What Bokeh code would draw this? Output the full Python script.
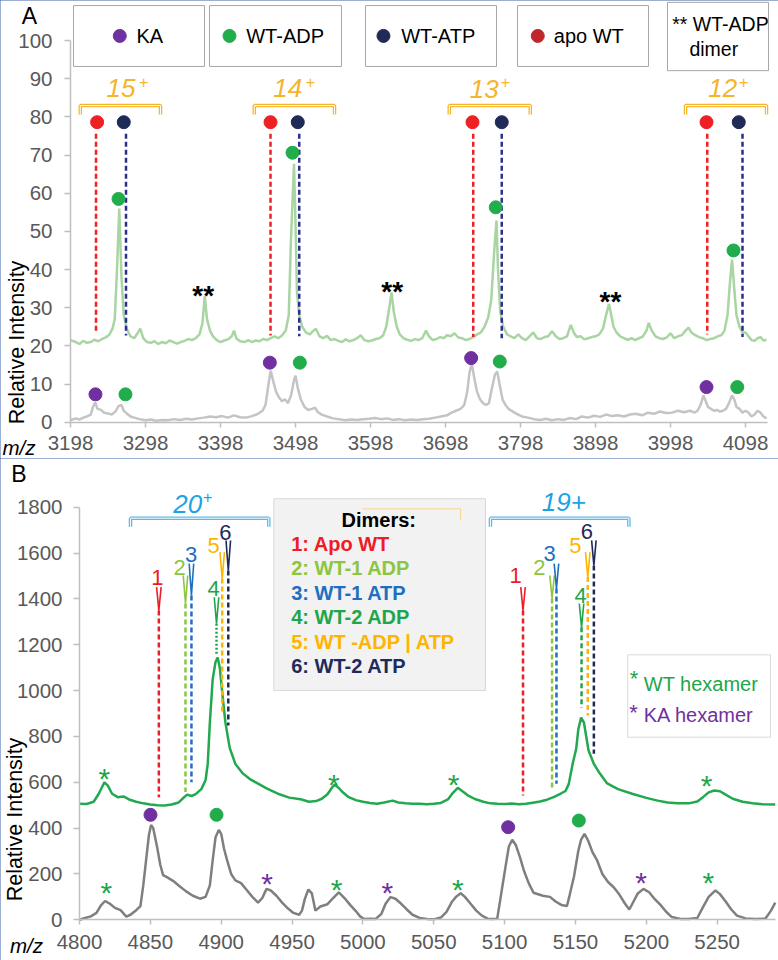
import math
from bokeh.plotting import figure
from bokeh.models import FixedTicker, Range1d, LinearAxis
from bokeh.layouts import column
from bokeh.embed import file_html
from bokeh.resources import INLINE
from bokeh.core.properties import value

FONT = "Liberation Sans"

# ------------------------------------------------------------------ Panel A data
A_XTICKS = [3198, 3298, 3398, 3498, 3598, 3698, 3798, 3898, 3998, 4098]
A_YTICKS = [0, 10, 20, 30, 40, 50, 60, 70, 80, 90, 100]

# WT (ADP/ATP) spectrum, offset trace (m/z, relative intensity)
A_WT_TRACE = [
    (3198, 21.5), (3205, 21.0), (3210, 20.5), (3215, 21.3), (3220, 20.8), (3225, 21.0), (3230, 21.6),
    (3235, 21.2), (3240, 21.8), (3245, 22.2), (3250, 23.0), (3254, 24.5), (3257, 27.0), (3260, 40.0),
    (3263, 56.0), (3266, 38.0), (3269, 28.0), (3273, 24.5), (3278, 22.5), (3283, 22.0), (3288, 23.5),
    (3291, 24.5), (3295, 22.0), (3300, 21.0), (3305, 20.8), (3310, 21.2), (3315, 20.5), (3320, 21.0),
    (3325, 20.7), (3330, 21.4), (3335, 21.0), (3340, 20.6), (3345, 21.0), (3350, 21.3), (3355, 21.8),
    (3360, 21.5), (3365, 22.0), (3370, 23.0), (3374, 26.0), (3377, 33.0), (3380, 27.0), (3384, 24.0),
    (3388, 22.5), (3393, 21.5), (3398, 21.0), (3403, 21.4), (3408, 21.7), (3413, 22.5), (3416, 24.0),
    (3419, 22.0), (3424, 21.2), (3430, 21.0), (3435, 21.5), (3440, 21.0), (3445, 21.4), (3450, 21.2),
    (3455, 21.8), (3460, 21.5), (3465, 22.0), (3470, 22.5), (3475, 22.0), (3480, 22.7), (3485, 24.0),
    (3489, 28.0), (3492, 48.0), (3496, 67.7), (3498, 52.0), (3500, 34.0), (3503, 28.0), (3507, 25.0),
    (3512, 23.5), (3517, 23.0), (3522, 24.0), (3525, 24.5), (3530, 22.5), (3535, 22.0), (3540, 22.6),
    (3545, 21.5), (3550, 21.8), (3555, 21.3), (3560, 21.0), (3565, 21.7), (3570, 21.2), (3575, 21.5),
    (3580, 22.0), (3585, 22.8), (3590, 21.5), (3595, 21.2), (3600, 21.4), (3605, 21.8), (3610, 22.0),
    (3615, 22.8), (3619, 25.0), (3623, 30.0), (3626, 34.0), (3629, 29.0), (3633, 25.0), (3637, 23.0),
    (3642, 22.0), (3647, 21.6), (3652, 21.3), (3657, 21.8), (3662, 21.5), (3667, 22.0), (3672, 24.0),
    (3676, 22.5), (3681, 21.5), (3686, 21.8), (3691, 22.3), (3696, 22.0), (3700, 22.8), (3705, 22.5),
    (3710, 23.3), (3715, 22.2), (3720, 22.0), (3725, 21.5), (3730, 21.8), (3735, 22.3), (3740, 23.0),
    (3745, 23.5), (3750, 25.0), (3755, 27.5), (3759, 32.0), (3763, 45.0), (3766, 52.8), (3768, 40.0),
    (3771, 29.0), (3775, 25.0), (3780, 23.0), (3785, 22.5), (3790, 22.0), (3795, 23.0), (3800, 22.0),
    (3805, 21.5), (3810, 22.5), (3815, 23.5), (3820, 22.0), (3825, 21.8), (3830, 22.3), (3835, 22.5),
    (3840, 23.8), (3845, 22.5), (3850, 21.8), (3855, 22.0), (3860, 22.5), (3865, 25.5), (3869, 23.5),
    (3873, 22.3), (3878, 22.5), (3883, 21.7), (3888, 22.0), (3893, 22.3), (3898, 22.5), (3903, 23.0),
    (3908, 24.5), (3912, 28.0), (3916, 31.0), (3919, 28.0), (3922, 25.0), (3926, 23.5), (3931, 22.5),
    (3936, 22.0), (3941, 21.6), (3946, 22.0), (3951, 21.5), (3956, 22.0), (3961, 22.4), (3966, 24.0),
    (3969, 26.0), (3973, 24.0), (3978, 22.5), (3983, 22.0), (3988, 21.8), (3993, 22.2), (3998, 23.3),
    (4003, 22.0), (4008, 22.5), (4013, 22.8), (4018, 24.0), (4022, 24.8), (4026, 23.5), (4031, 22.8),
    (4036, 22.3), (4041, 22.0), (4046, 21.5), (4051, 21.8), (4056, 22.0), (4061, 22.5), (4066, 22.8),
    (4070, 24.0), (4074, 28.0), (4077, 36.0), (4080, 42.6), (4083, 35.0), (4086, 28.0), (4090, 25.0),
    (4094, 23.5), (4098, 23.5), (4102, 22.5), (4106, 21.5), (4110, 21.3), (4114, 22.0), (4118, 22.3),
    (4122, 21.4), (4126, 21.6),
]

# KA + WT mixture spectrum, lower trace
A_KA_TRACE = [
    (3198, 0.5), (3205, 1.0), (3210, 0.7), (3215, 1.2), (3220, 1.5), (3225, 2.0), (3228, 4.0),
    (3231, 5.2), (3234, 3.5), (3238, 3.3), (3243, 2.5), (3248, 2.3), (3253, 2.0), (3258, 2.8),
    (3262, 4.2), (3266, 4.5), (3269, 3.0), (3273, 2.3), (3278, 1.5), (3283, 1.2), (3290, 0.8),
    (3298, 0.5), (3305, 0.7), (3312, 0.4), (3320, 0.6), (3328, 0.5), (3336, 0.8), (3344, 0.6),
    (3352, 0.9), (3360, 0.7), (3368, 1.0), (3376, 1.2), (3384, 1.5), (3392, 1.3), (3400, 1.6),
    (3408, 1.2), (3416, 1.8), (3424, 1.3), (3432, 1.2), (3440, 1.6), (3448, 2.2), (3454, 3.0),
    (3458, 4.5), (3462, 10.0), (3465, 13.5), (3468, 11.0), (3472, 8.0), (3476, 6.5), (3480, 5.5),
    (3484, 6.0), (3488, 5.0), (3492, 7.0), (3496, 11.0), (3498, 12.2), (3501, 9.0), (3505, 6.0),
    (3510, 4.0), (3515, 3.2), (3520, 3.5), (3524, 3.8), (3528, 2.6), (3533, 2.0), (3540, 1.5),
    (3548, 1.0), (3556, 0.8), (3564, 0.5), (3572, 0.7), (3580, 0.6), (3588, 0.8), (3596, 0.9),
    (3604, 1.1), (3612, 0.8), (3620, 1.0), (3628, 0.6), (3636, 0.8), (3644, 0.5), (3652, 0.7),
    (3660, 0.6), (3668, 0.8), (3676, 0.9), (3684, 1.2), (3692, 1.5), (3700, 1.8), (3706, 2.5),
    (3712, 3.0), (3718, 3.5), (3723, 4.5), (3727, 8.0), (3730, 13.0), (3733, 15.3), (3736, 12.0),
    (3740, 8.0), (3744, 6.0), (3748, 5.0), (3752, 4.5), (3756, 5.0), (3760, 9.0), (3764, 12.5),
    (3767, 13.3), (3770, 10.0), (3774, 6.0), (3778, 4.5), (3782, 3.5), (3786, 3.0), (3790, 2.5),
    (3795, 2.0), (3800, 1.5), (3808, 1.2), (3816, 0.8), (3824, 0.6), (3832, 0.9), (3840, 0.5),
    (3848, 0.8), (3856, 0.6), (3864, 1.1), (3872, 0.8), (3880, 1.5), (3888, 1.2), (3896, 1.7),
    (3904, 1.4), (3912, 2.0), (3920, 1.6), (3928, 1.8), (3936, 1.5), (3944, 2.0), (3952, 2.2),
    (3960, 1.8), (3968, 2.5), (3976, 2.2), (3984, 2.8), (3992, 2.4), (4000, 2.5), (4008, 3.0),
    (4016, 2.6), (4024, 3.0), (4030, 2.5), (4034, 3.0), (4038, 4.5), (4042, 7.0), (4045, 5.5),
    (4048, 4.0), (4052, 3.5), (4056, 3.0), (4060, 3.2), (4064, 2.8), (4068, 3.0), (4072, 3.5),
    (4076, 5.0), (4080, 7.0), (4083, 6.0), (4086, 4.0), (4090, 3.5), (4094, 2.5), (4098, 3.0),
    (4102, 2.5), (4106, 1.5), (4110, 2.0), (4114, 3.0), (4118, 2.5), (4122, 1.5), (4126, 1.0),
]

A_CHARGES = ["15", "14", "13", "12"]
A_CHARGE_X = [3284.7, 3506.9, 3769.0, 4086.9]       # right edge of the digits
A_CHARGE_Y = [87.5, 87.5, 87.3, 87.6]
A_PLUS_X = [3295.7, 3518.0, 3778.0, 4095.7]
A_PLUS_Y = [89.0, 89.0, 89.0, 89.0]
A_BRACKET_X0 = [3211, 3443, 3703, 4018]
A_BRACKET_X1 = [3318, 3550, 3811, 4126]
A_BRACKET_Y = 82.95
A_BRACKET_END = 80.6

A_APO_X = [3233.5, 3464.7, 3734.0, 4046.0]          # apo WT markers
A_ATP_X = [3269.0, 3501.0, 3773.0, 4089.0]          # WT-ATP markers
A_MARK_Y = 78.6
A_APO_LINE_X = [3232.0, 3464.7, 3735.0, 4047.0]
A_APO_LINE_BOT = [23.6, 22.7, 22.3, 23.0]
A_ATP_LINE_X = [3272.0, 3503.0, 3773.0, 4094.0]
A_ATP_LINE_BOT = [22.7, 22.5, 22.0, 22.3]
A_LINE_TOP = 75.6

A_ADP_DOT_X = [3262.0, 3494.0, 3765.0, 4082.0]      # WT-ADP peaks (upper trace)
A_ADP_DOT_Y = [58.5, 70.6, 56.3, 45.0]
A_KA_DOT_X = [3231.3, 3463.8, 3732.2, 4046.0]       # KA peaks (lower trace)
A_KA_DOT_Y = [7.3, 15.6, 16.8, 9.2]
A_ADP2_DOT_X = [3271.3, 3503.8, 3770.4, 4087.0]     # WT-ADP peaks (lower trace)
A_ADP2_DOT_Y = [7.3, 15.6, 15.9, 9.2]

A_DIMER_X = [3375, 3627, 3918]                      # "**" WT-ADP dimer
A_DIMER_Y = [35.0, 36.0, 33.4]

A_LEG_LABELS = ["KA", "WT-ADP", "WT-ATP", "apo WT"]
A_LEG_COLORS = ["#7030A0", "#21AD4B", "#1F2A57", "#C0272D"]
A_LEG_LEFT = [3202.0, 3383.3, 3591.3, 3794.0, 3994.0]
A_LEG_RIGHT = [3376.7, 3559.3, 3766.0, 3968.7, 4128.7]
A_LEG_BOTTOM = [93.2, 93.2, 93.2, 93.2, 92.1]
A_LEG_TOP = [109.15, 109.15, 109.15, 109.15, 110.0]
A_LEG_DOT_X = [3263.7, 3410.0, 3615.3, 3821.0]
A_LEG_TEXT_X = [3286.0, 3432.3, 3638.9, 3842.4]

# ------------------------------------------------------------------ Panel B data
B_XTICKS = [4800, 4850, 4900, 4950, 5000, 5050, 5100, 5150, 5200, 5250]
B_YTICKS = [0, 200, 400, 600, 800, 1000, 1200, 1400, 1600, 1800]

B_WT_TRACE = [
    (4800, 506), (4805, 505), (4810, 515), (4813.6, 550), (4817.6, 600), (4820, 585), (4823, 550),
    (4827, 535), (4831, 538), (4835, 525), (4840, 515), (4845, 508), (4850, 503), (4855, 500),
    (4860, 499), (4865, 503), (4870, 512), (4873, 530), (4876, 546), (4879, 540), (4882, 548),
    (4886, 570), (4889, 610), (4890.5, 680), (4892, 860), (4894, 1050), (4896, 1125), (4897.5, 1144),
    (4899, 1100), (4901, 975), (4903, 860), (4906, 750), (4910, 680), (4915, 640), (4920, 615),
    (4926, 594), (4932, 573), (4940, 550), (4948, 533), (4956, 526), (4962, 515), (4967, 518),
    (4971, 528), (4975, 548), (4978, 575), (4980, 590), (4983, 575), (4986, 555), (4990, 535),
    (4995, 522), (5000, 515), (5005, 510), (5010, 506), (5015, 512), (5021, 520), (5025, 512),
    (5030, 508), (5035, 506), (5040, 506), (5045, 504), (5050, 506), (5055, 510), (5060, 525),
    (5063, 550), (5067, 576), (5070, 562), (5074, 543), (5079, 527), (5085, 515), (5090, 508),
    (5095, 506), (5100, 505), (5105, 507), (5110, 504), (5115, 506), (5120, 511), (5125, 516),
    (5130, 524), (5135, 536), (5140, 552), (5143, 562), (5145.3, 593), (5148, 680), (5150.5, 745),
    (5152, 830), (5154, 882), (5156, 860), (5159.2, 740), (5163, 680), (5167, 640), (5172.4, 595),
    (5180, 570), (5190, 550), (5200, 532), (5208, 520), (5215, 512), (5222, 508), (5230, 508),
    (5236, 516), (5240, 535), (5244, 556), (5248, 564), (5252, 561), (5256, 546), (5261, 528),
    (5268, 515), (5275, 508), (5282, 504), (5291, 503),
]

B_KA_TRACE = [
    (4800, 0), (4804, 8), (4808, 15), (4812, 30), (4815, 62), (4818, 82), (4821, 72), (4825, 52),
    (4829, 42), (4833, 14), (4836, 22), (4840, 42), (4843, 60), (4845, 150), (4847, 260), (4849, 370),
    (4850.5, 414), (4852, 400), (4854.8, 317), (4857, 240), (4859, 195), (4862, 185), (4866, 170),
    (4870, 150), (4875, 125), (4880, 105), (4885, 92), (4889, 100), (4892, 150), (4894, 260),
    (4896, 360), (4898.3, 392), (4900, 375), (4902, 310), (4904.2, 259), (4907, 200), (4910, 172),
    (4914, 160), (4918, 130), (4922, 100), (4926, 75), (4929, 95), (4932, 135), (4935, 128),
    (4939, 105), (4943, 75), (4947, 50), (4951, 30), (4955, 22), (4957, 40), (4959, 90),
    (4961.5, 132), (4964, 115), (4966.5, 40), (4970, 58), (4975, 68), (4979, 95), (4983, 120),
    (4987, 95), (4991, 65), (4995, 38), (4998, 15), (5001, 3), (5005, 5), (5009, 4), (5013, 25),
    (5016, 70), (5019.5, 99), (5023, 92), (5027, 70), (5031, 45), (5035, 22), (5040, 8), (5045, 4),
    (5050, 2), (5055, 10), (5059, 35), (5063, 80), (5066, 102), (5069, 116), (5072, 100), (5076, 70),
    (5080, 40), (5084, 18), (5088, 5), (5091, 3), (5094.8, 5), (5097, 90), (5100.6, 230), (5103, 320),
    (5105.4, 349), (5108, 325), (5111, 270), (5113.6, 215), (5117, 160), (5120.4, 118), (5127, 105),
    (5132, 100), (5136, 80), (5140, 65), (5144, 60), (5146, 110), (5149, 190), (5152, 300),
    (5154, 350), (5156.4, 375), (5159, 345), (5162, 295), (5165.3, 259), (5169, 200), (5173, 165),
    (5177, 142), (5181, 110), (5185, 70), (5188, 45), (5191, 80), (5194, 115), (5198, 135), (5202, 120),
    (5206, 90), (5210, 65), (5214, 35), (5218, 12), (5224, 4), (5230, 3), (5236, 8), (5240, 55),
    (5244, 100), (5248.8, 128), (5252, 112), (5256, 80), (5260, 45), (5264, 18), (5270, 6),
    (5277, 4), (5284, 5), (5288, 40), (5291, 75),
]

# dimer species markers (20+ then 19+)
B_SPECIES = ["1", "2", "3", "4", "5", "6"]
B_SPECIES_COLORS = ["#EE1C25", "#8CC63F", "#1F6FC0", "#1EA64A", "#FFB400", "#1F2A5C"]
B_MARK_X_20 = [4856.0, 4874.8, 4879.0, 4896.7, 4900.7, 4905.0]
B_ARROW_TOP_20 = [1451, 1502, 1554, 1407, 1604, 1655]
B_LINE_TOP_20 = [1349, 1380, 1415, 1292, 1489, 1524]
B_LINE_BOT_20 = [535, 557, 600, 1160, 900, 848]
B_LABEL_X_20 = [4855.0, 4870.6, 4878.8, 4894.6, 4894.6, 4903.0]
B_LABEL_Y_20 = [1495, 1538, 1594, 1447, 1631, 1691]
B_MARK_X_19 = [5113.0, 5133.5, 5136.6, 5154.3, 5158.7, 5163.0]
B_ARROW_TOP_19 = [1451, 1502, 1554, 1380, 1604, 1655]
B_LINE_TOP_19 = [1349, 1402, 1445, 1276, 1495, 1546]
B_LINE_BOT_19 = [542, 568, 594, 925, 891, 724]
B_LABEL_X_19 = [5107.7, 5124.6, 5131.7, 5153.6, 5150.0, 5158.0]
B_LABEL_Y_19 = [1502, 1538, 1598, 1415, 1633, 1695]

B_DIMER_LEGEND = ["1: Apo WT", "2: WT-1 ADP", "3: WT-1 ATP", "4: WT-2 ADP", "5: WT -ADP | ATP", "6: WT-2 ATP"]
B_DIMER_LEGEND_Y = [1640, 1534, 1426, 1320, 1211, 1106]

B_KA_DOT = [(4850.1, 458), (5102.5, 404)]
B_WT_DOT = [(4896.7, 458), (5152.4, 433)]
B_WT_STAR = [(4817.6, 647), (4979.5, 622), (5064.0, 622), (5242.5, 615),
             (4819.0, 150), (4981.4, 164), (5067.0, 164), (5243.7, 193)]
B_KA_STAR = [(4932.4, 190), (5017.3, 150), (5196.4, 193)]

# ------------------------------------------------------------------ helpers
GOLD = "#F6B42A"
SKY = "#1CA3E3"
SKY_LINE = "#5DB7E8"
AXIS_GREY = "#BFBFBF"
PANEL_BORDER = {"outline": "1.5px solid #3B5CA6", "outline-offset": "-1.5px"}


def make_fig(w, h, xr, yr):
    p = figure(width=w, height=h, x_range=Range1d(*xr), y_range=Range1d(*yr),
               output_backend="svg", toolbar_location=None, min_border=0,
               min_border_left=0, min_border_right=0, min_border_top=0, min_border_bottom=0)
    p.xgrid.grid_line_color = None
    p.ygrid.grid_line_color = None
    p.outline_line_color = None
    p.styles = PANEL_BORDER
    return p


def style_axes(p, xticks, yticks, xbounds, ybounds, x_loc, y_loc, x_lab_off, y_lab_off):
    # axes drawn at a fixed data location: the default axes carry the rule and tick marks,
    # a second pair of axes (invisible tick marks of the wanted length) carries the labels
    p.xaxis.ticker = FixedTicker(ticks=xticks)
    p.yaxis.ticker = FixedTicker(ticks=yticks)
    p.xaxis.bounds = xbounds
    p.yaxis.bounds = ybounds
    p.xaxis.fixed_location = x_loc
    p.yaxis.fixed_location = y_loc
    p.xaxis.major_label_overrides = {t: "" for t in xticks}
    p.yaxis.major_label_overrides = {t: "" for t in yticks}
    for ax in (p.xaxis[0], p.yaxis[0]):
        ax.axis_line_color = AXIS_GREY
        ax.axis_line_width = 1.5
        ax.major_tick_line_color = AXIS_GREY
        ax.major_tick_line_width = 1.5
        ax.minor_tick_line_color = None
        ax.major_tick_in = 0
    p.xaxis.major_tick_out = 5
    p.yaxis.major_tick_out = 6
    common = dict(axis_line_color=None, major_tick_line_color=None, minor_tick_line_color=None,
                  major_tick_in=0, major_label_text_font=FONT, major_label_text_font_size="20.5px",
                  major_label_text_color="#595959")
    lx = LinearAxis(ticker=FixedTicker(ticks=xticks), fixed_location=x_loc, bounds=xbounds,
                    major_tick_out=x_lab_off, **common)
    ly = LinearAxis(ticker=FixedTicker(ticks=yticks), fixed_location=y_loc, bounds=ybounds,
                    major_tick_out=y_lab_off, **common)
    p.add_layout(lx, "below")
    p.add_layout(ly, "left")


def txt(p, xs, ys, texts, size, color, align="center", baseline="middle", style="normal", angle=0.0):
    p.text(x=xs, y=ys, text=texts, text_font=value(FONT), text_font_size=value(size),
           text_color=color, text_align=align, text_baseline=baseline, text_font_style=style,
           angle=angle)


def bracket(p, x0, x1, y, yend, color):
    xs = [[a, a, b, b] for a, b in zip(x0, x1)]
    ys = [[yend, y, y, yend] for _ in x0]
    p.multi_line(xs, ys, line_color=color, line_width=3.5)
    p.multi_line(xs, ys, line_color="white", line_width=1)


# ------------------------------------------------------------------ Panel A
# frame = whole canvas; 0.75 px per m/z unit, 3.817 px per intensity unit; origin at (70, 421.7)
wA, hA = 778, 458
pA = make_fig(wA, hA, (3198 - 70 / 0.75, 3198 + (wA - 70) / 0.75), ((421.7 - hA) / 3.817, 421.7 / 3.817))
style_axes(pA, A_XTICKS, A_YTICKS, (3198, 4127), (0, 100), 0, 3198, 9, 13)

pA.line([m for m, _ in A_WT_TRACE], [v for _, v in A_WT_TRACE], line_color="#A8D5A2", line_width=2.5)
pA.line([m for m, _ in A_KA_TRACE], [v for _, v in A_KA_TRACE], line_color="#C4C4C4", line_width=2.5)

pA.segment(x0=A_APO_LINE_X, y0=[A_LINE_TOP] * 4, x1=A_APO_LINE_X, y1=A_APO_LINE_BOT,
           line_color="#EE2024", line_width=2.5, line_dash="5 3")
pA.segment(x0=A_ATP_LINE_X, y0=[A_LINE_TOP] * 4, x1=A_ATP_LINE_X, y1=A_ATP_LINE_BOT,
           line_color="#2B2F8F", line_width=2.5, line_dash="5 3")
pA.scatter(A_APO_X, [A_MARK_Y] * 4, size=13, color="#EE2024")
pA.scatter(A_ATP_X, [A_MARK_Y] * 4, size=13, color="#1F2A57")
pA.scatter(A_ADP_DOT_X, A_ADP_DOT_Y, size=13, color="#21AD4B")
pA.scatter(A_KA_DOT_X, A_KA_DOT_Y, size=13, color="#7030A0")
pA.scatter(A_ADP2_DOT_X, A_ADP2_DOT_Y, size=13, color="#21AD4B")

bracket(pA, A_BRACKET_X0, A_BRACKET_X1, A_BRACKET_Y, A_BRACKET_END, GOLD)
txt(pA, A_CHARGE_X, A_CHARGE_Y, A_CHARGES, "26px", GOLD, align="right", style="italic")
txt(pA, A_PLUS_X, A_PLUS_Y, ["+"] * 4, "16px", GOLD)
txt(pA, A_DIMER_X, [y - 1.7 for y in A_DIMER_Y], ["**"] * 3, "28px", "#000000", style="bold")

pA.quad(left=A_LEG_LEFT, right=A_LEG_RIGHT, bottom=A_LEG_BOTTOM, top=A_LEG_TOP,
        fill_color="white", line_color="#A6A6A6", line_width=1)
pA.scatter(A_LEG_DOT_X, [101.2] * 4, size=13, color=A_LEG_COLORS)
txt(pA, A_LEG_TEXT_X, [101.05] * 4, A_LEG_LABELS, "20px", "#000000", align="left")
txt(pA, [4000.3], [104.4], ["** WT-ADP"], "19.5px", "#000000", align="left")
txt(pA, [4055.7], [97.8], ["dimer"], "19.5px", "#000000")

txt(pA, [3143.3], [106.5], ["A"], "23px", "#000000")
txt(pA, [3129.3], [-6.6], ["m/z"], "20.5px", "#000000", style="italic")
txt(pA, [3126.0], [(421.7 - 342) / 3.817], ["Relative Intensity"], "21.5px", "#000000", angle=math.pi / 2)

# ------------------------------------------------------------------ Panel B
# 1.417 px per m/z unit, 0.22922 px per intensity unit; origin at (79, 919.3) of the whole picture
wB, hB = 778, 960 - hA
oyB = 919.3 - hA
pB = make_fig(wB, hB, (4800 - 79 / 1.417, 4800 + (wB - 79) / 1.417), ((oyB - hB) / 0.22922, oyB / 0.22922))
style_axes(pB, B_XTICKS, B_YTICKS, (4800, 5291), (0, 1800), 0, 4800, 10, 12)

pB.line([m for m, _ in B_WT_TRACE], [v for _, v in B_WT_TRACE], line_color="#22A94F", line_width=2.5)
pB.line([m for m, _ in B_KA_TRACE], [v for _, v in B_KA_TRACE], line_color="#7F7F7F", line_width=2.5)

for is20, mx, atop, ltop, lbot, lx, ly in ((True, B_MARK_X_20, B_ARROW_TOP_20, B_LINE_TOP_20, B_LINE_BOT_20, B_LABEL_X_20, B_LABEL_Y_20),
                                           (False, B_MARK_X_19, B_ARROW_TOP_19, B_LINE_TOP_19, B_LINE_BOT_19, B_LABEL_X_19, B_LABEL_Y_19)):
    for i in range(6):
        dash = "2 2" if (i == 3 and is20) else "5 3"
        pB.segment(x0=[mx[i]], y0=[ltop[i]], x1=[mx[i]], y1=[lbot[i]],
                   line_color=B_SPECIES_COLORS[i], line_width=2.5, line_dash=dash)
        pB.line([mx[i] - 1.6, mx[i], mx[i] + 1.6], [atop[i], ltop[i], atop[i]],
                line_color=B_SPECIES_COLORS[i], line_width=1.6)
    txt(pB, lx, ly, B_SPECIES, "22px", B_SPECIES_COLORS)

bracket(pB, [4836.0, 5090.0], [4933.6, 5187.7], 1752, 1715, SKY_LINE)
txt(pB, [4886.6], [1815], ["20"], "26px", SKY, align="right", style="italic")
txt(pB, [4890.5], [1846], ["+"], "16px", SKY)
txt(pB, [5141.8], [1822], ["19+"], "26px", SKY, style="italic")

pB.scatter([x for x, _ in B_KA_DOT], [y for _, y in B_KA_DOT], size=13, color="#7030A0")
pB.scatter([x for x, _ in B_WT_DOT], [y for _, y in B_WT_DOT], size=13, color="#21AD4B")
txt(pB, [x for x, _ in B_WT_STAR], [y - 31 for _, y in B_WT_STAR], ["*"] * len(B_WT_STAR), "30px", "#1EA64A")
txt(pB, [x for x, _ in B_KA_STAR], [y - 31 for _, y in B_KA_STAR], ["*"] * len(B_KA_STAR), "30px", "#7030A0")

# dimers legend box
pB.quad(left=[4937.1], right=[5086.5], bottom=[1000.4], top=[1837], fill_color="#F2F2F2",
        line_color="#D9D9D9", line_width=1)
pB.line([4999.5, 5068.9, 5068.9], [1793, 1793, 1742], line_color="#F8D58A", line_width=1)
txt(pB, [5011.2], [1742], ["Dimers:"], "20px", "#000000", style="bold")
txt(pB, [4949.4] * 6, B_DIMER_LEGEND_Y, B_DIMER_LEGEND, "20px", B_SPECIES_COLORS, align="left", style="bold")

# hexamer legend box
pB.quad(left=[5186.9], right=[5287.6], bottom=[796.6], top=[1156], fill_color="white",
        line_color="#D9D9D9", line_width=1)
txt(pB, [5191.3, 5191.0], [1074.5 - 23, 926.2 - 23], ["*", "*"], "22px", ["#1EA64A", "#7030A0"])
txt(pB, [5198.2, 5198.2], [1029.6, 891.3], ["WT hexamer", "KA hexamer"], "20px",
    ["#1EA64A", "#7030A0"], align="left")

txt(pB, [4757.3], [1945], ["B"], "23px", "#000000")
txt(pB, [4762.6], [-112], ["m/z"], "20.5px", "#000000", style="italic")
txt(pB, [4754.8], [(919.3 - 819) / 0.22922], ["Relative Intensity"], "21.5px", "#000000", angle=math.pi / 2)

layout = column(pA, pB, spacing=0)
open("out.html", "w").write(file_html(layout, INLINE))
